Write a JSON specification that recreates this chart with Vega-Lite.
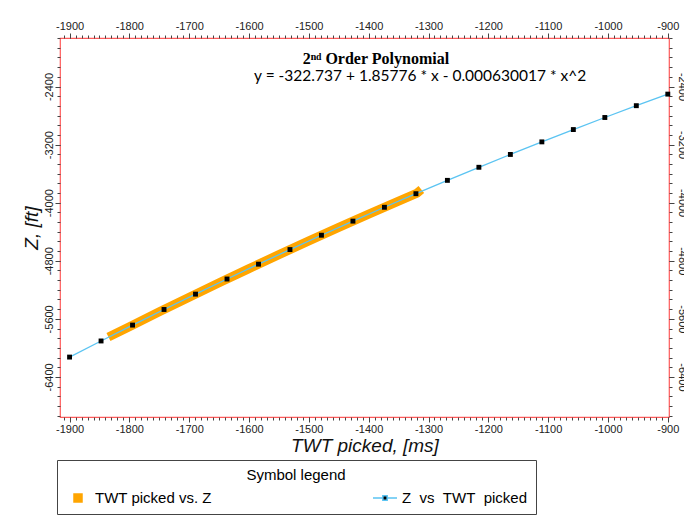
{
  "$schema": "https://vega.github.io/schema/vega-lite/v6.json",
  "width": 609,
  "height": 379,
  "autosize": {"type": "none"},
  "padding": {"left": 60, "top": 38, "right": 15, "bottom": 104},
  "background": "white",
  "datasets": {
    "main": [
      {"twt": -1900, "z": -6126.8, "series": "Z\u00a0\u00a0vs\u00a0\u00a0TWT\u00a0\u00a0picked"},
      {"twt": -1847.37, "z": -5904.8, "series": "Z\u00a0\u00a0vs\u00a0\u00a0TWT\u00a0\u00a0picked"},
      {"twt": -1794.74, "z": -5686.3, "series": "Z\u00a0\u00a0vs\u00a0\u00a0TWT\u00a0\u00a0picked"},
      {"twt": -1742.11, "z": -5471.2, "series": "Z\u00a0\u00a0vs\u00a0\u00a0TWT\u00a0\u00a0picked"},
      {"twt": -1689.47, "z": -5259.6, "series": "Z\u00a0\u00a0vs\u00a0\u00a0TWT\u00a0\u00a0picked"},
      {"twt": -1636.84, "z": -5051.6, "series": "Z\u00a0\u00a0vs\u00a0\u00a0TWT\u00a0\u00a0picked"},
      {"twt": -1584.21, "z": -4847.0, "series": "Z\u00a0\u00a0vs\u00a0\u00a0TWT\u00a0\u00a0picked"},
      {"twt": -1531.58, "z": -4645.9, "series": "Z\u00a0\u00a0vs\u00a0\u00a0TWT\u00a0\u00a0picked"},
      {"twt": -1478.95, "z": -4448.3, "series": "Z\u00a0\u00a0vs\u00a0\u00a0TWT\u00a0\u00a0picked"},
      {"twt": -1426.32, "z": -4254.1, "series": "Z\u00a0\u00a0vs\u00a0\u00a0TWT\u00a0\u00a0picked"},
      {"twt": -1373.68, "z": -4063.5, "series": "Z\u00a0\u00a0vs\u00a0\u00a0TWT\u00a0\u00a0picked"},
      {"twt": -1321.05, "z": -3876.4, "series": "Z\u00a0\u00a0vs\u00a0\u00a0TWT\u00a0\u00a0picked"},
      {"twt": -1268.42, "z": -3692.7, "series": "Z\u00a0\u00a0vs\u00a0\u00a0TWT\u00a0\u00a0picked"},
      {"twt": -1215.79, "z": -3512.6, "series": "Z\u00a0\u00a0vs\u00a0\u00a0TWT\u00a0\u00a0picked"},
      {"twt": -1163.16, "z": -3335.9, "series": "Z\u00a0\u00a0vs\u00a0\u00a0TWT\u00a0\u00a0picked"},
      {"twt": -1110.53, "z": -3162.7, "series": "Z\u00a0\u00a0vs\u00a0\u00a0TWT\u00a0\u00a0picked"},
      {"twt": -1057.89, "z": -2993.1, "series": "Z\u00a0\u00a0vs\u00a0\u00a0TWT\u00a0\u00a0picked"},
      {"twt": -1005.26, "z": -2826.9, "series": "Z\u00a0\u00a0vs\u00a0\u00a0TWT\u00a0\u00a0picked"},
      {"twt": -952.63, "z": -2664.2, "series": "Z\u00a0\u00a0vs\u00a0\u00a0TWT\u00a0\u00a0picked"},
      {"twt": -900, "z": -2505.0, "series": "Z\u00a0\u00a0vs\u00a0\u00a0TWT\u00a0\u00a0picked"}
    ],
    "picked": [
      {"twt": -1835, "z": -5850, "series": "TWT picked vs. Z"},
      {"twt": -1800, "z": -5708, "series": "TWT picked vs. Z"},
      {"twt": -1750, "z": -5503, "series": "TWT picked vs. Z"},
      {"twt": -1700, "z": -5302, "series": "TWT picked vs. Z"},
      {"twt": -1650, "z": -5103, "series": "TWT picked vs. Z"},
      {"twt": -1600, "z": -4908, "series": "TWT picked vs. Z"},
      {"twt": -1550, "z": -4716, "series": "TWT picked vs. Z"},
      {"twt": -1500, "z": -4527, "series": "TWT picked vs. Z"},
      {"twt": -1450, "z": -4341, "series": "TWT picked vs. Z"},
      {"twt": -1400, "z": -4158, "series": "TWT picked vs. Z"},
      {"twt": -1350, "z": -3979, "series": "TWT picked vs. Z"},
      {"twt": -1320, "z": -3873, "series": "TWT picked vs. Z"},
      {"twt": -1312, "z": -3820, "series": "TWT picked vs. Z"}
    ]
  },
  "config": {
    "view": {"stroke": "#FF5A5A", "strokeWidth": 1.2},
    "font": "Liberation Sans",
    "axis": {
      "grid": false,
      "domain": false,
      "labelFont": "Liberation Sans",
      "labelFontSize": 11,
      "labelColor": "#222222",
      "tickColor": "#444444",
      "titleFont": "Liberation Sans",
      "titleFontSize": 19,
      "titleFontStyle": "italic",
      "titleFontWeight": "normal",
      "titleColor": "#111111"
    }
  },
  "layer": [
    {
      "data": {"name": "picked"},
      "mark": {"type": "line", "strokeWidth": 9, "strokeCap": "butt", "strokeJoin": "round"},
      "encoding": {
        "x": {
          "field": "twt", "type": "quantitative",
          "scale": {"domain": [-1916, -898], "nice": false, "zero": false},
          "axis": {"orient": "bottom", "values": [-1900, -1800, -1700, -1600, -1500, -1400, -1300, -1200, -1100, -1000, -900],
            "labelExpr": "'' + datum.value", "title": "TWT picked, [ms]", "tickSize": 5, "labelPadding": 1, "titlePadding": 2}
        },
        "y": {
          "field": "z", "type": "quantitative",
          "scale": {"domain": [-6952, -1732], "nice": false, "zero": false},
          "axis": {"orient": "left", "values": [-6400, -5600, -4800, -4000, -3200, -2400],
            "labelExpr": "'' + datum.value", "labelAngle": -90, "title": "Z, [ft]", "tickSize": 5, "labelPadding": 1, "titlePadding": 2}
        },
        "color": {
          "field": "series", "type": "nominal",
          "scale": {"domain": ["TWT picked vs. Z", "Z\u00a0\u00a0vs\u00a0\u00a0TWT\u00a0\u00a0picked"], "range": ["#FFA500", "#5BC4F2"]},
          "legend": {
            "orient": "none", "legendX": -3, "legendY": 422,
            "title": "Symbol legend", "titleAnchor": "middle",
            "titleFont": "Liberation Sans", "titleFontSize": 15, "titleFontWeight": "normal", "titleColor": "black", "titlePadding": 2,
            "columns": 2, "columnPadding": 158, "direction": "horizontal",
            "labelFont": "Liberation Sans", "labelFontSize": 15, "labelColor": "black", "labelLimit": 700, "labelOffset": 4,
            "labelExpr": "datum.label == 'TWT picked vs. Z' ? datum.label : pad(datum.label, 55)",
            "strokeColor": "#444444", "fillColor": "white", "padding": 8,
            "symbolSize": 576,
            "encode": {
              "symbols": {
                "update": {
                  "shape": {"signal": "datum.value == 'TWT picked vs. Z' ? 'square' : 'M-1,0L-0.22,0M0.22,0L1,0M-0.18,-0.18L0.18,-0.18L0.18,0.18L-0.18,0.18Z'"},
                  "size": {"signal": "datum.value == 'TWT picked vs. Z' ? 64 : 576"},
                  "fill": {"signal": "datum.value == 'TWT picked vs. Z' ? '#FFA500' : 'black'"},
                  "stroke": {"signal": "datum.value == 'TWT picked vs. Z' ? '#FFA500' : '#5BC4F2'"},
                  "strokeWidth": {"value": 1.5},
                  "opacity": {"value": 1}
                }
              }
            }
          }
        }
      }
    },
    {
      "data": {"name": "main"},
      "mark": {"type": "line", "strokeWidth": 1.3},
      "encoding": {
        "x": {
          "field": "twt", "type": "quantitative",
          "scale": {"domain": [-1916, -898], "nice": false, "zero": false},
          "axis": {"orient": "top", "values": [-1900, -1800, -1700, -1600, -1500, -1400, -1300, -1200, -1100, -1000, -900],
            "labelExpr": "'' + datum.value", "title": null, "tickSize": 5, "labelPadding": 2}
        },
        "y": {
          "field": "z", "type": "quantitative",
          "scale": {"domain": [-6952, -1732], "nice": false, "zero": false},
          "axis": {"orient": "right", "values": [-6400, -5600, -4800, -4000, -3200, -2400],
            "labelExpr": "'' + datum.value", "labelAngle": 90, "title": null, "tickSize": 5, "labelPadding": 2}
        },
        "color": {"field": "series", "type": "nominal"}
      }
    },
    {
      "data": {"name": "main"},
      "mark": {"type": "point", "shape": "square", "filled": true, "size": 24, "color": "black", "opacity": 1},
      "encoding": {
        "x": {
          "field": "twt", "type": "quantitative",
          "scale": {"domain": [-1916, -898], "nice": false, "zero": false},
          "axis": {"orient": "bottom", "labels": false, "title": null, "tickSize": 3,
            "values": [-1910,-1900,-1890,-1880,-1870,-1860,-1850,-1840,-1830,-1820,-1810,-1800,-1790,-1780,-1770,-1760,-1750,-1740,-1730,-1720,-1710,-1700,-1690,-1680,-1670,-1660,-1650,-1640,-1630,-1620,-1610,-1600,-1590,-1580,-1570,-1560,-1550,-1540,-1530,-1520,-1510,-1500,-1490,-1480,-1470,-1460,-1450,-1440,-1430,-1420,-1410,-1400,-1390,-1380,-1370,-1360,-1350,-1340,-1330,-1320,-1310,-1300,-1290,-1280,-1270,-1260,-1250,-1240,-1230,-1220,-1210,-1200,-1190,-1180,-1170,-1160,-1150,-1140,-1130,-1120,-1110,-1100,-1090,-1080,-1070,-1060,-1050,-1040,-1030,-1020,-1010,-1000,-990,-980,-970,-960,-950,-940,-930,-920,-910,-900]}
        },
        "y": {
          "field": "z", "type": "quantitative",
          "scale": {"domain": [-6952, -1732], "nice": false, "zero": false},
          "axis": {"orient": "left", "labels": false, "title": null, "tickSize": 3,
            "values": [-6933.33,-6800,-6666.67,-6533.33,-6400,-6266.67,-6133.33,-6000,-5866.67,-5733.33,-5600,-5466.67,-5333.33,-5200,-5066.67,-4933.33,-4800,-4666.67,-4533.33,-4400,-4266.67,-4133.33,-4000,-3866.67,-3733.33,-3600,-3466.67,-3333.33,-3200,-3066.67,-2933.33,-2800,-2666.67,-2533.33,-2400,-2266.67,-2133.33,-2000,-1866.67,-1733.33]}
        }
      }
    },
    {
      "data": {"name": "main"},
      "mark": {"type": "point", "opacity": 0},
      "encoding": {
        "x": {
          "field": "twt", "type": "quantitative",
          "scale": {"domain": [-1916, -898], "nice": false, "zero": false},
          "axis": {"orient": "top", "labels": false, "title": null, "tickSize": 3,
            "values": [-1910,-1900,-1890,-1880,-1870,-1860,-1850,-1840,-1830,-1820,-1810,-1800,-1790,-1780,-1770,-1760,-1750,-1740,-1730,-1720,-1710,-1700,-1690,-1680,-1670,-1660,-1650,-1640,-1630,-1620,-1610,-1600,-1590,-1580,-1570,-1560,-1550,-1540,-1530,-1520,-1510,-1500,-1490,-1480,-1470,-1460,-1450,-1440,-1430,-1420,-1410,-1400,-1390,-1380,-1370,-1360,-1350,-1340,-1330,-1320,-1310,-1300,-1290,-1280,-1270,-1260,-1250,-1240,-1230,-1220,-1210,-1200,-1190,-1180,-1170,-1160,-1150,-1140,-1130,-1120,-1110,-1100,-1090,-1080,-1070,-1060,-1050,-1040,-1030,-1020,-1010,-1000,-990,-980,-970,-960,-950,-940,-930,-920,-910,-900]}
        },
        "y": {
          "field": "z", "type": "quantitative",
          "scale": {"domain": [-6952, -1732], "nice": false, "zero": false},
          "axis": {"orient": "right", "labels": false, "title": null, "tickSize": 3,
            "values": [-6933.33,-6800,-6666.67,-6533.33,-6400,-6266.67,-6133.33,-6000,-5866.67,-5733.33,-5600,-5466.67,-5333.33,-5200,-5066.67,-4933.33,-4800,-4666.67,-4533.33,-4400,-4266.67,-4133.33,-4000,-3866.67,-3733.33,-3600,-3466.67,-3333.33,-3200,-3066.67,-2933.33,-2800,-2666.67,-2533.33,-2400,-2266.67,-2133.33,-2000,-1866.67,-1733.33]}
        }
      }
    },
    {
      "data": {"values": [{"label": "2\u207f\u1d48 Order Polynomial"}]},
      "mark": {"type": "text", "font": "Liberation Serif", "fontWeight": "bold", "fontSize": 16, "align": "center", "baseline": "alphabetic", "color": "black"},
      "encoding": {
        "x": {"datum": -1388, "type": "quantitative", "scale": {"domain": [-1916, -898], "nice": false, "zero": false}, "axis": null},
        "y": {"datum": -2085, "type": "quantitative", "scale": {"domain": [-6952, -1732], "nice": false, "zero": false}, "axis": null},
        "text": {"field": "label"}
      }
    },
    {
      "data": {"values": [{"label": "y = -322.737 + 1.85776 * x - 0.000630017 * x^2"}]},
      "mark": {"type": "text", "font": "Lato", "fontSize": 15.5, "align": "center", "baseline": "alphabetic", "color": "black"},
      "encoding": {
        "x": {"datum": -1314, "type": "quantitative", "scale": {"domain": [-1916, -898], "nice": false, "zero": false}, "axis": null},
        "y": {"datum": -2325, "type": "quantitative", "scale": {"domain": [-6952, -1732], "nice": false, "zero": false}, "axis": null},
        "text": {"field": "label"}
      }
    }
  ],
  "resolve": {"axis": {"x": "independent", "y": "independent"}}
}
